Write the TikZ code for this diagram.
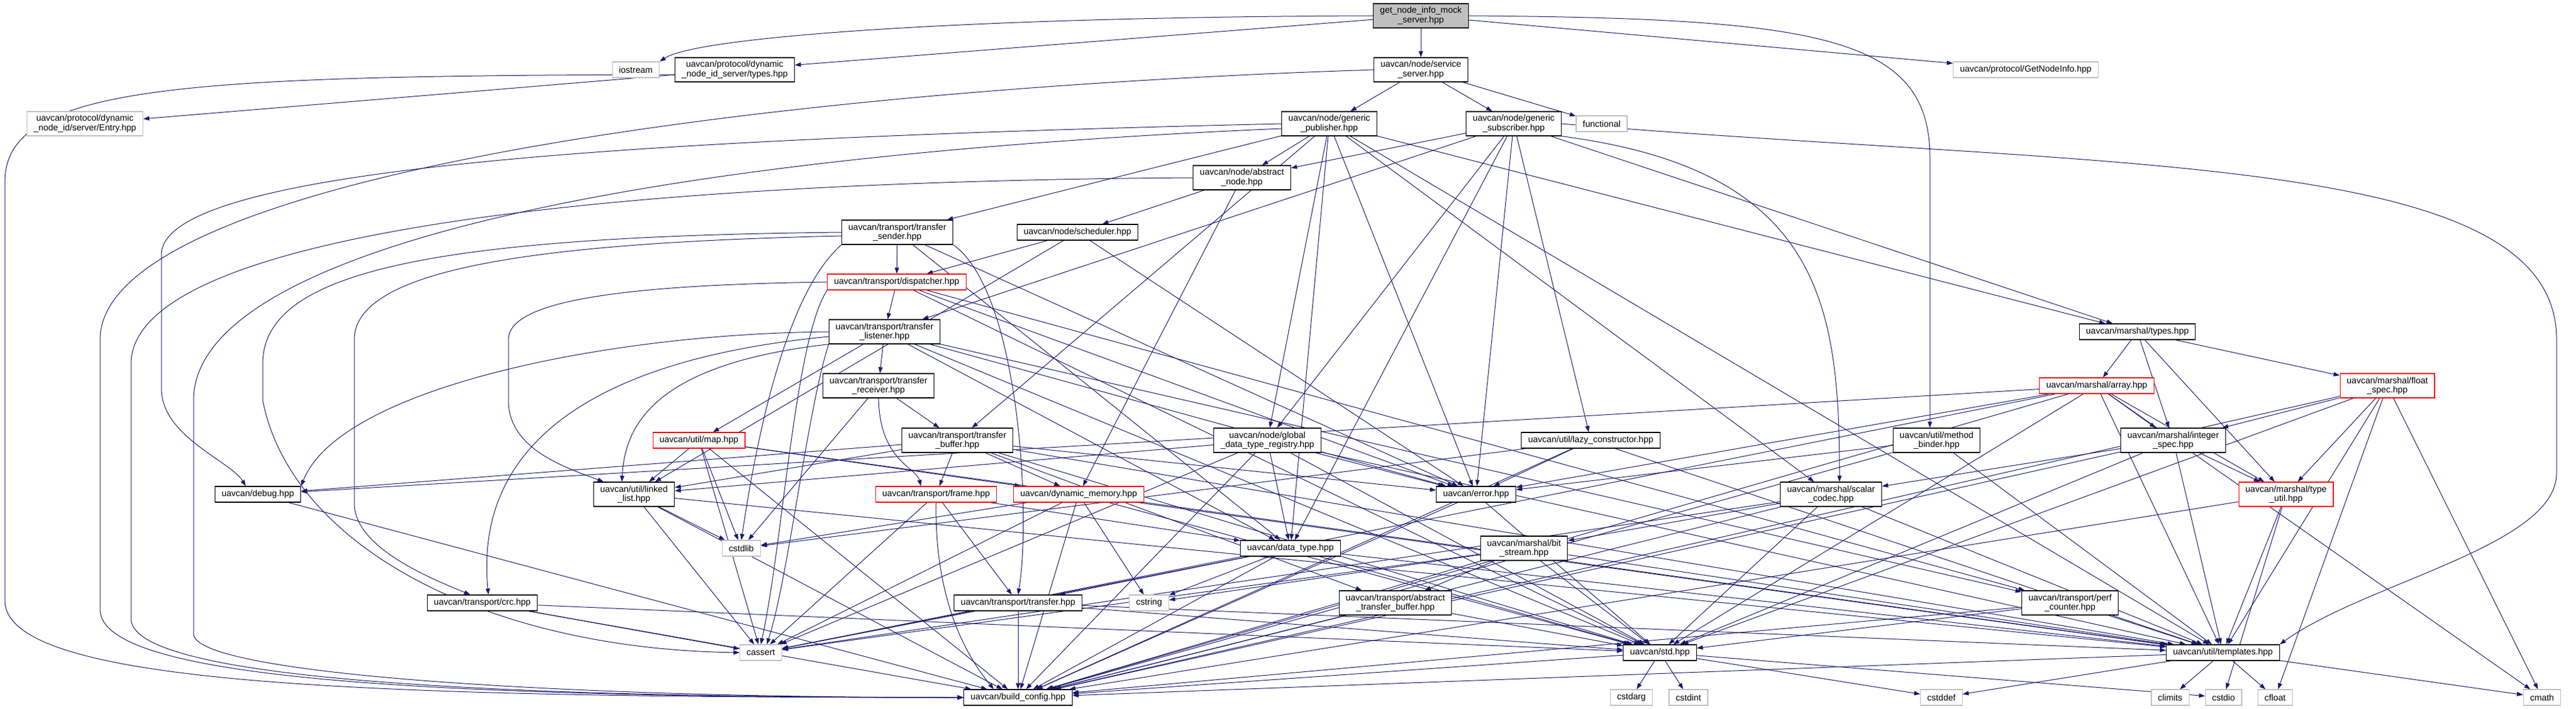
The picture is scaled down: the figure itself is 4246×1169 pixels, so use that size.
\documentclass[tikz,border=0pt]{standalone}
\usepackage{fontspec}
\setmainfont{Liberation Sans}
\usetikzlibrary{arrows.meta,backgrounds}
\definecolor{edgeblue}{HTML}{191970}
\definecolor{extgray}{HTML}{BFBFBF}
\begin{document}
\begin{tikzpicture}[x=1pt,y=-1pt,
  hdr/.style={draw=black,line width=1.2pt,fill=white,font=\fontsize{14.5}{15.5}\selectfont,
    align=center,inner xsep=11pt,inner ysep=3pt,minimum height=26pt},
  tall/.style={minimum height=40pt},
  sys/.style={hdr,draw=extgray},
  trunc/.style={hdr,draw=red},
  mainhdr/.style={hdr,fill=extgray},
  incl/.style={draw=edgeblue,line width=1pt,-{Triangle[length=10pt,width=7pt]}}]
\useasboundingbox (0,0) rectangle (4246,1169);
%
\node[mainhdr,tall](root) at (2342,26) {get\_node\_info\_mock\\\_server.hpp};
%
\node[sys](iostream) at (1048,115) {iostream};
\node[hdr,tall](dtypes) at (1211,115) {uavcan/protocol/dynamic\\\_node\_id\_server/types.hpp};
\node[hdr,tall](ssrv) at (2342,115) {uavcan/node/service\\\_server.hpp};
\node[sys](getnode) at (3339,115) {uavcan/protocol/GetNodeInfo.hpp};
%
\node[sys,tall](entry) at (140,204) {uavcan/protocol/dynamic\\\_node\_id/server/Entry.hpp};
\node[hdr,tall](gpub) at (2191,204) {uavcan/node/generic\\\_publisher.hpp};
\node[hdr,tall](gsub) at (2495,204) {uavcan/node/generic\\\_subscriber.hpp};
\node[sys](functional) at (2640,204) {functional};
%
\node[hdr,tall](anode) at (2047,293) {uavcan/node/abstract\\\_node.hpp};
%
\node[hdr,tall](tsender) at (1479,383) {uavcan/transport/transfer\\\_sender.hpp};
\node[hdr](scheduler) at (1776,383) {uavcan/node/scheduler.hpp};
%
\node[trunc](dispatcher) at (1478,465) {uavcan/transport/dispatcher.hpp};
%
\node[hdr,tall](tlistener) at (1458,547) {uavcan/transport/transfer\\\_listener.hpp};
\node[hdr](mtypes) at (3523,547) {uavcan/marshal/types.hpp};
%
\node[hdr,tall](treceiver) at (1448,636) {uavcan/transport/transfer\\\_receiver.hpp};
\node[trunc](array) at (3456,636) {uavcan/marshal/array.hpp};
\node[trunc,tall](float) at (3935,636) {uavcan/marshal/float\\\_spec.hpp};
%
\node[trunc](map) at (1152,726) {uavcan/util/map.hpp};
\node[hdr,tall](tbuffer) at (1578,726) {uavcan/transport/transfer\\\_buffer.hpp};
\node[hdr,tall](gdtr) at (2089,726) {uavcan/node/global\\\_data\_type\_registry.hpp};
\node[hdr](lazy) at (2622,726) {uavcan/util/lazy\_constructor.hpp};
\node[hdr,tall](mbinder) at (3192,726) {uavcan/util/method\\\_binder.hpp};
\node[hdr,tall](intspec) at (3582,726) {uavcan/marshal/integer\\\_spec.hpp};
%
\node[hdr](debug) at (425,815) {uavcan/debug.hpp};
\node[hdr,tall](llist) at (1045,815) {uavcan/util/linked\\\_list.hpp};
\node[trunc](frame) at (1543,815) {uavcan/transport/frame.hpp};
\node[trunc](dynmem) at (1778,815) {uavcan/dynamic\_memory.hpp};
\node[hdr](error) at (2433,815) {uavcan/error.hpp};
\node[hdr,tall](scodec) at (3018,815) {uavcan/marshal/scalar\\\_codec.hpp};
\node[trunc,tall](typeutil) at (3768,815) {uavcan/marshal/type\\\_util.hpp};
%
\node[sys](cstdlib) at (1222,904) {cstdlib};
\node[hdr](dtype) at (2127,904) {uavcan/data\_type.hpp};
\node[hdr,tall](bitstream) at (2512,904) {uavcan/marshal/bit\\\_stream.hpp};
%
\node[hdr](crc) at (795,994) {uavcan/transport/crc.hpp};
\node[hdr](transfer) at (1678,994) {uavcan/transport/transfer.hpp};
\node[sys](cstring) at (1894,994) {cstring};
\node[hdr,tall](atb) at (2300,994) {uavcan/transport/abstract\\\_transfer\_buffer.hpp};
\node[hdr,tall](perf) at (3412,994) {uavcan/transport/perf\\\_counter.hpp};
%
\node[sys](cassert) at (1254,1076) {cassert};
\node[hdr](std) at (2736,1076) {uavcan/std.hpp};
\node[hdr](templates) at (3664,1076) {uavcan/util/templates.hpp};
%
\node[hdr](bcfg) at (1678,1150) {uavcan/build\_config.hpp};
\node[sys](cstdarg) at (2689,1150) {cstdarg};
\node[sys](cstdint) at (2783,1150) {cstdint};
\node[sys](cstddef) at (3200,1150) {cstddef};
\node[sys](climits) at (3577,1150) {climits};
\node[sys](cstdio) at (3665,1150) {cstdio};
\node[sys](cfloat) at (3750,1150) {cfloat};
\node[sys](cmath) at (4190,1150) {cmath};
%
\coordinate(lane1) at (8,300);
\coordinate(lane1b) at (8,990);
\coordinate(lane2) at (165,560);
\coordinate(lane2b) at (165,1005);
\coordinate(lane3) at (216,600);
\coordinate(lane3b) at (216,1020);
\coordinate(lane4) at (266,420);
\coordinate(lane4b) at (266,640);
\coordinate(lane5) at (319,660);
\coordinate(lane5b) at (319,1045);
\coordinate(lane6) at (433,600);
\coordinate(lane6b) at (433,660);
\coordinate(lane7) at (584,560);
\coordinate(lane7b) at (584,830);
\coordinate(lane8) at (838,560);
\coordinate(lane8b) at (838,660);
\coordinate(rlane) at (4214,560);
\coordinate(rlaneb) at (4214,780);
\coordinate(mlane) at (3181,260);
%
\begin{scope}[on background layer]
\draw[incl](root.west) .. controls (1600,28) and (1150,60) .. (iostream.north east) {};
\draw[incl](root) -- (dtypes) {};
\draw[incl](root) -- (ssrv) {};
\draw[incl](root) -- (getnode) {};
\draw[incl](root.east) .. controls (3000,30) and (3181,60) .. (mlane) -- ([xshift=-11pt]mbinder.north) {};
%
\draw[incl](dtypes) -- (entry) {};
\draw[incl]([yshift=-8pt]dtypes.west) .. controls (300,125) and (8,140) .. (lane1) -- (lane1b) .. controls (8,1130) and (600,1150) .. (bcfg.west) {};
%
\draw[incl](ssrv) -- (gpub) {};
\draw[incl](ssrv) -- (gsub) {};
\draw[incl](ssrv) -- (functional) {};
\draw[incl](ssrv.west) .. controls (1200,150) and (165,300) .. (lane2) -- (lane2b) .. controls (165,1120) and (700,1150) .. (bcfg.west) {};
%
\draw[incl](gpub) -- (anode) {};
\draw[incl](gpub) -- (tsender) {};
\draw[incl](gpub) -- (tbuffer) {};
\draw[incl](gpub) -- (gdtr) {};
\draw[incl](gpub) -- (dtype) {};
\draw[incl](gpub) -- (error) {};
\draw[incl](gpub) -- (mtypes) {};
\draw[incl](gpub) -- (scodec) {};
\draw[incl](gpub) -- (templates) {};
\draw[incl](gpub.west) .. controls (1000,230) and (266,280) .. (lane4) -- (lane4b) .. controls (266,720) and (380,760) .. ([xshift=-20pt]debug.north) {};
\draw[incl]([yshift=-8pt]gpub.west) .. controls (1000,260) and (319,420) .. (lane5) -- (lane5b) .. controls (319,1110) and (900,1150) .. (bcfg.west) {};
%
\draw[incl](gsub) -- (anode) {};
\draw[incl](gsub) -- (tlistener) {};
\draw[incl](gsub) -- (gdtr) {};
\draw[incl](gsub) -- (lazy) {};
\draw[incl](gsub) -- (dtype) {};
\draw[incl](gsub) -- (error) {};
\draw[incl](gsub) -- (mtypes) {};
\draw[incl](gsub.south east) .. controls (3000,280) and (3032,500) .. ([xshift=14pt]scodec.north) {};
\draw[incl](gsub.east) .. controls (3500,280) and (4214,250) .. (rlane) -- (rlaneb) .. controls (4214,900) and (3900,960) .. (templates.north east) {};
%
\draw[incl](anode) -- (scheduler) {};
\draw[incl](anode) -- (dynmem) {};
\draw[incl](anode.west) .. controls (900,300) and (216,400) .. (lane3) -- (lane3b) .. controls (216,1120) and (800,1150) .. (bcfg.west) {};
%
\draw[incl](scheduler) -- (dispatcher) {};
\draw[incl](scheduler) -- (llist) {};
\draw[incl](scheduler) -- (error) {};
%
\draw[incl](tsender) -- (dispatcher) {};
\draw[incl](tsender.south west) .. controls (1300,480) and (1250,700) .. (cstdlib.north) {};
\draw[incl](tsender.west) .. controls (700,390) and (433,450) .. (lane6) -- (lane6b) .. controls (480,900) and (800,1070) .. (cassert.west) {};
\draw[incl](tsender) -- (error) {};
\draw[incl](tsender) -- (dtype) {};
\draw[incl]([yshift=-6pt]tsender.west) .. controls (900,400) and (584,440) .. (lane7) -- (lane7b) .. controls (584,900) and (700,950) .. ([xshift=-20pt]crc.north) {};
\draw[incl](tsender.south east) .. controls (1680,480) and (1700,850) .. (transfer.north) {};
%
\draw[incl](dispatcher) -- (tlistener) {};
\draw[incl](dispatcher.west) .. controls (1000,470) and (838,500) .. (lane8) -- (lane8b) .. controls (838,740) and (930,770) .. ([xshift=-50pt]llist.north) {};
\draw[incl](dispatcher.south west) .. controls (1310,560) and (1290,900) .. (cassert.north) {};
\draw[incl](dispatcher) -- (error) {};
\draw[incl](dispatcher) -- (std) {};
\draw[incl](dispatcher) -- (perf) {};
%
\draw[incl](tlistener) -- (treceiver) {};
\draw[incl](tlistener) -- (map) {};
\draw[incl](tlistener.south west) .. controls (1080,600) and (1030,700) .. ([xshift=-20pt]llist.north) {};
\draw[incl](tlistener.west) .. controls (1000,550) and (560,640) .. (debug.north east) {};
\draw[incl]([yshift=-8pt]tlistener.west) .. controls (1000,590) and (780,720) .. ([xshift=10pt]crc.north) {};
\draw[incl](tlistener.south west) .. controls (1330,680) and (1300,950) .. ([xshift=10pt]cassert.north) {};
\draw[incl](tlistener) -- (error) {};
\draw[incl](tlistener) -- (dtype) {};
\draw[incl](tlistener) -- (perf) {};
\draw[incl](tlistener) -- (std) {};
%
\draw[incl](treceiver) -- (tbuffer) {};
\draw[incl](treceiver.south) .. controls (1450,760) and (1510,770) .. ([xshift=-25pt]frame.north) {};
\draw[incl](treceiver) -- (cstdlib) {};
%
\draw[incl](tbuffer) -- (frame) {};
\draw[incl](tbuffer) -- (dynmem) {};
\draw[incl](tbuffer) -- (debug) {};
\draw[incl](tbuffer) -- (llist) {};
\draw[incl](tbuffer) -- (std) {};
\draw[incl](tbuffer) -- (error) {};
\draw[incl](tbuffer) -- (atb) {};
\draw[incl](tbuffer) -- (templates) {};
%
\draw[incl](map) -- (llist) {};
\draw[incl](map) -- (cstdlib) {};
\draw[incl](map) -- (cassert) {};
\draw[incl](map) -- (dynmem) {};
\draw[incl](map) -- (templates) {};
\draw[incl](map) -- (bcfg) {};
%
\draw[incl](gdtr) -- (llist) {};
\draw[incl](gdtr) -- (cassert) {};
\draw[incl](gdtr) -- (error) {};
\draw[incl](gdtr) -- (std) {};
\draw[incl](gdtr) -- (dtype) {};
\draw[incl](gdtr) -- (templates) {};
\draw[incl](gdtr) -- (bcfg) {};
%
\draw[incl](lazy) -- (cstdlib) {};
\draw[incl](lazy) -- (error) {};
\draw[incl](lazy) -- (bcfg) {};
\draw[incl](lazy) -- (templates) {};
%
\draw[incl](mbinder) -- (error) {};
\draw[incl](mbinder) -- (bcfg) {};
\draw[incl](mbinder) -- (templates) {};
%
\draw[incl](mtypes) -- (array) {};
\draw[incl](mtypes) -- (intspec) {};
\draw[incl](mtypes) -- (float) {};
\draw[incl](mtypes) -- (typeutil) {};
%
\draw[incl](array) -- (debug) {};
\draw[incl](array) -- (cassert) {};
\draw[incl](array) -- (error) {};
\draw[incl](array) -- (bcfg) {};
\draw[incl](array) -- (std) {};
\draw[incl](array) -- (intspec) {};
\draw[incl](array) -- (typeutil) {};
\draw[incl](array) -- (templates) {};
\draw[incl](array) -- (cmath) {};
%
\draw[incl](float) -- (std) {};
\draw[incl](float) -- (intspec) {};
\draw[incl](float) -- (typeutil) {};
\draw[incl](float) -- (templates) {};
\draw[incl](float) -- (bcfg) {};
\draw[incl](float) -- (cmath) {};
\draw[incl](float) -- (cfloat) {};
%
\draw[incl](intspec) -- (scodec) {};
\draw[incl](intspec) -- (std) {};
\draw[incl](intspec) -- (bcfg) {};
\draw[incl](intspec) -- (templates) {};
\draw[incl](intspec) -- (typeutil) {};
%
\draw[incl](typeutil) -- (templates) {};
\draw[incl](typeutil) -- (cstdio) {};
\draw[incl](typeutil) -- (bcfg) {};
%
\draw[incl](scodec) -- (bitstream) {};
\draw[incl](scodec) -- (cassert) {};
\draw[incl](scodec) -- (std) {};
\draw[incl](scodec) -- (bcfg) {};
\draw[incl](scodec) -- (templates) {};
%
\draw[incl](bitstream) -- (atb) {};
\draw[incl](bitstream) -- (cassert) {};
\draw[incl](bitstream) -- (cstring) {};
\draw[incl](bitstream) -- (std) {};
\draw[incl](bitstream) -- (bcfg) {};
\draw[incl](bitstream) -- (templates) {};
%
\draw[incl](atb) -- (std) {};
\draw[incl](atb) -- (bcfg) {};
%
\draw[incl](dtype) -- (transfer) {};
\draw[incl](dtype) -- (cassert) {};
\draw[incl](dtype) -- (cstring) {};
\draw[incl](dtype) -- (std) {};
\draw[incl](dtype) -- (bcfg) {};
\draw[incl](dtype) -- (templates) {};
%
\draw[incl](frame) -- (transfer) {};
\draw[incl](frame) -- (cassert) {};
\draw[incl](frame.south) .. controls (1540,1000) and (1600,1090) .. ([xshift=-40pt]bcfg.north) {};
\draw[incl](frame) -- (dtype) {};
%
\draw[incl](transfer) -- (cassert) {};
\draw[incl](transfer) -- (bcfg) {};
\draw[incl](transfer) -- (std) {};
\draw[incl](transfer) -- (templates) {};
%
\draw[incl](dynmem) -- (cstdlib) {};
\draw[incl](dynmem) -- (cassert) {};
\draw[incl](dynmem) -- (cstring) {};
\draw[incl](dynmem) -- (bcfg) {};
\draw[incl](dynmem) -- (std) {};
\draw[incl](dynmem) -- (templates) {};
%
\draw[incl](crc) -- (std) {};
\draw[incl](crc) -- (bcfg) {};
\draw[incl](crc) -- (cassert) {};
%
\draw[incl](perf) -- (std) {};
\draw[incl](perf) -- (bcfg) {};
\draw[incl](perf) -- (templates) {};
%
\draw[incl](llist) -- (cstdlib) {};
\draw[incl](llist) -- (cassert) {};
\draw[incl](llist) -- (bcfg) {};
\draw[incl](llist) -- (templates) {};
%
\draw[incl](debug) -- (bcfg) {};
%
\draw[incl](error) -- (std) {};
\draw[incl](error) -- (bcfg) {};
%
\draw[incl](std) -- (bcfg) {};
\draw[incl](std) -- (cstdarg) {};
\draw[incl](std) -- (cstdint) {};
\draw[incl](std) -- (cstddef) {};
\draw[incl](std) -- (cstdio) {};
%
\draw[incl](templates) -- (bcfg) {};
\draw[incl](templates) -- (climits) {};
\draw[incl](templates) -- (cstddef) {};
\draw[incl](templates) -- (cfloat) {};
\draw[incl](templates) -- (cmath) {};
\end{scope}
\end{tikzpicture}
\end{document}
